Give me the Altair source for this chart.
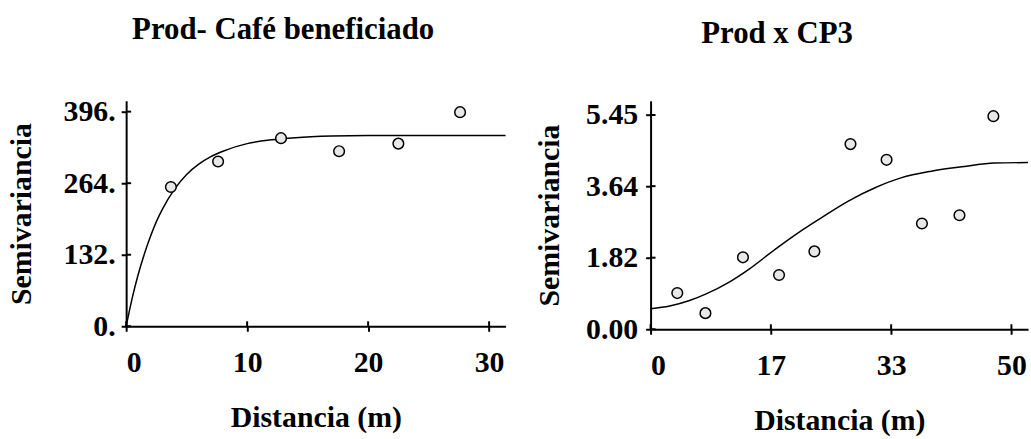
import altair as alt
import pandas as pd

# ---- Left panel: Prod- Café beneficiado ----
left_title = "Prod- Café beneficiado"
left_dist = [3.7, 7.6, 12.8, 17.6, 22.5, 27.6]
left_semi = [257, 304, 347, 323, 337, 395]
left_curve_x = [0, 0.5, 1, 1.5, 2, 2.5, 3, 4, 5, 6, 7, 8, 10, 12, 14, 17, 20, 25, 31.36]
left_curve_y = [0, 52, 96, 133, 165, 193, 216, 253, 280, 299, 313, 323, 337, 344, 348, 351, 352, 352, 352]
left_yticks = [0, 132, 264, 396]
left_ylabels = ["0.", "132.", "264.", "396."]
left_xticks = [0, 10, 20, 30]
left_xlabels = ["0", "10", "20", "30"]

# ---- Right panel: Prod x CP3 ----
right_title = "Prod x CP3"
right_dist = [3.7, 7.6, 12.8, 17.8, 22.7, 27.7, 32.7, 37.6, 42.8, 47.5]
right_semi = [0.92, 0.41, 1.83, 1.38, 1.98, 4.71, 4.31, 2.69, 2.90, 5.42]
right_curve_x = [0, 2.65, 5.4, 7.7, 10.9, 13.66, 17.3, 20.5, 23.7, 27.4, 31.1, 34.7, 38.9, 43.5, 47.6, 52.3]
right_curve_y = [0.52, 0.59, 0.73, 0.90, 1.20, 1.53, 2.04, 2.46, 2.84, 3.26, 3.60, 3.85, 4.02, 4.14, 4.23, 4.24]
right_yticks = [0, 1.82, 3.64, 5.45]
right_ylabels = ["0.00", "1.82", "3.64", "5.45"]
right_xticks = [0, 16.667, 33.333, 50]
right_xlabels = ["0", "17", "33", "50"]

FONT = "Liberation Serif"


def label_expr(vals, labels):
    parts = []
    for v, l in zip(vals, labels):
        parts.append(f"abs(datum.value - {v}) < 0.001 ? '{l}'")
    return " : ".join(parts) + " : ''"


def panel(title, title_dx, title_y, dist, semi, cx, cy, xmax, ymax, xticks,
          xlabels, yticks, ylabels, w, h, ylabpad, ytitlepad, top_extent=None):
    xs = alt.Scale(domain=[0, xmax], nice=False, zero=False)
    ys = alt.Scale(domain=[0, ymax], nice=False, zero=False)
    xaxis = alt.Axis(values=xticks, labelExpr=label_expr(xticks, xlabels),
                     title="Distancia (m)", labelPadding=17, titlePadding=25)
    yaxis = alt.Axis(values=yticks, labelExpr=label_expr(yticks, ylabels),
                     title="Semivariancia", labelPadding=ylabpad,
                     titlePadding=ytitlepad)
    curve = alt.Chart(pd.DataFrame({"d": cx, "s": cy})).mark_line(
        color="black", strokeWidth=1.5, interpolate="monotone"
    ).encode(
        x=alt.X("d:Q", scale=xs, axis=xaxis),
        y=alt.Y("s:Q", scale=ys, axis=yaxis),
    )
    pts = alt.Chart(pd.DataFrame({"d": dist, "s": semi})).mark_point(
        shape="circle", fill="#e8e8e8", fillOpacity=1, stroke="black",
        strokeWidth=1.5, size=115, opacity=1
    ).encode(x=alt.X("d:Q", scale=xs), y=alt.Y("s:Q", scale=ys))
    ytick_in = alt.Chart(pd.DataFrame({"s": yticks})).mark_rule(
        color="black", strokeWidth=2
    ).encode(y=alt.Y("s:Q", scale=ys), x=alt.value(0), x2=alt.value(5))
    xtick_in = alt.Chart(pd.DataFrame({"d": xticks})).mark_rule(
        color="black", strokeWidth=2
    ).encode(x=alt.X("d:Q", scale=xs), y=alt.value(h), y2=alt.value(h - 5))
    ttl = alt.Chart(pd.DataFrame({"t": [title]})).mark_text(
        align="left", baseline="alphabetic", font=FONT, fontSize=31,
        fontWeight="bold", color="black"
    ).encode(text="t:N", x=alt.value(title_dx), y=alt.value(title_y))
    layers = [curve, pts, ytick_in, xtick_in, ttl]
    if top_extent is not None:
        # invisible spacer that fixes the top of the panel's bounds
        layers.append(alt.Chart(pd.DataFrame({"s": [0]})).mark_rule(
            color="white", strokeWidth=1, strokeOpacity=0
        ).encode(x=alt.value(0), x2=alt.value(2), y=alt.value(-top_extent),
                 y2=alt.value(-top_extent)))
    return alt.layer(*layers).properties(width=w, height=h)


left = panel(left_title, 6, -62, left_dist, left_semi, left_curve_x,
             left_curve_y, 31.36, 416, left_xticks, left_xlabels,
             left_yticks, left_ylabels, 382, 227, 6, 27, top_extent=95)
right = panel(right_title, 51, -58, right_dist, right_semi, right_curve_x,
              right_curve_y, 52.3, 5.811, right_xticks, right_xlabels,
              right_yticks, right_ylabels, 380, 230, 8, 21)

chart = alt.hconcat(left, right, spacing=26).properties(
    padding={"left": 6, "top": 5, "right": 0, "bottom": 0},
    background="white",
).configure_axis(
    domainColor="black", domainWidth=2, tickColor="black", tickWidth=2,
    tickSize=5, grid=False, labelFont=FONT, labelFontSize=30,
    labelFontWeight="bold", labelColor="black", titleFont=FONT,
    titleFontSize=30, titleFontWeight="bold", titleColor="black",
).configure_view(stroke=None)

chart.save("out.html", embed_options={"renderer": "svg", "actions": False})
